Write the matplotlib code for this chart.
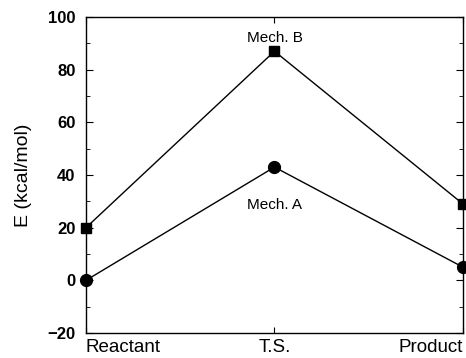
import matplotlib
matplotlib.use("Agg")
import matplotlib.pyplot as plt
from matplotlib.ticker import MultipleLocator

plt.rcParams['font.family'] = ['Liberation Sans', 'DejaVu Sans']

stages = ["Reactant", "T.S.", "Product"]
mech_a = [0, 43, 5]
mech_b = [20, 87, 29]

fig = plt.figure(figsize=(4.66, 3.58), dpi=100)
ax = fig.add_axes([0.1845, 0.0698, 0.809, 0.8827])
x = list(range(len(stages)))
ax.plot(x, mech_b, color='black', lw=1.0, marker='s', ms=7.5, clip_on=False, zorder=3)
ax.plot(x, mech_a, color='black', lw=1.0, marker='o', ms=8.5, clip_on=False, zorder=3)

ax.set_xlim(0, 2)
ax.set_ylim(-20, 100)
ax.set_xticks(x)
ax.set_xticklabels(stages, fontsize=13.5)
xl = ax.get_xticklabels()
xl[0].set_ha('left')
xl[2].set_ha('right')
ax.yaxis.set_major_locator(MultipleLocator(20))
ax.yaxis.set_minor_locator(MultipleLocator(10))
for lab in ax.get_yticklabels():
    lab.set_fontweight('bold')
    lab.set_fontsize(12)
ax.tick_params(axis='both', which='both', direction='in', top=True, right=True)
ax.tick_params(axis='y', which='major', length=5, pad=7.5)
ax.tick_params(axis='y', which='minor', length=3)
ax.tick_params(axis='x', which='major', length=4, pad=4)
ax.set_ylabel("E (kcal/mol)", fontsize=14, labelpad=11)

ax.text(1, 92.2, "Mech. B", ha='center', va='center', fontsize=11)
ax.text(1, 28.8, "Mech. A", ha='center', va='center', fontsize=11)

for s in ax.spines.values():
    s.set_linewidth(1.0)

fig.savefig("out.png", dpi=100)
